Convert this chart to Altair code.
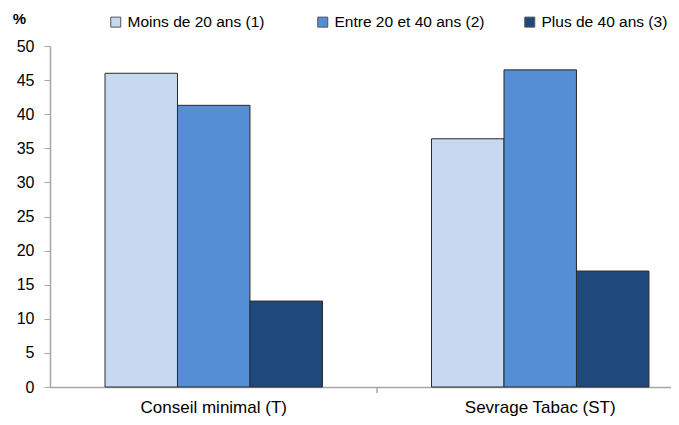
import altair as alt
import pandas as pd

categories = ["Conseil minimal (T)", "Sevrage Tabac (ST)"]
groups = ["Moins de 20 ans (1)", "Entre 20 et 40 ans (2)", "Plus de 40 ans (3)"]
conseil = [46.0, 41.3, 12.6]
sevrage = [36.4, 46.5, 17.0]
colors = ["#C6D9F1", "#558ED5", "#1F497D"]
y_ticks = [0, 5, 10, 15, 20, 25, 30, 35, 40, 45, 50]

rows = []
for cat, vals in zip(categories, [conseil, sevrage]):
    for g, v in zip(groups, vals):
        rows.append({"cat": cat, "grp": g, "val": v})
df = pd.DataFrame(rows)

FONT = "Liberation Sans"
W, H = 621, 341

xscale = alt.Scale(domain=categories, paddingInner=0.334, paddingOuter=0.118, align=0.714)

bars = alt.Chart(df).mark_bar(stroke="#2b2b2b", strokeWidth=1).encode(
    x=alt.X("cat:N", scale=xscale, sort=categories,
            axis=alt.Axis(title=None, labelAngle=0, tickSize=0, labelPadding=12,
                          labelFont=FONT, labelFontSize=17, labelColor="#000000",
                          domainColor="#A6A6A6", domainWidth=1.5)),
    xOffset=alt.XOffset("grp:N", sort=groups, scale=alt.Scale(paddingInner=0, paddingOuter=0)),
    y=alt.Y("val:Q", scale=alt.Scale(domain=[0, 50], nice=False),
            axis=alt.Axis(title="%", titleAngle=0, titleX=-31, titleY=-28,
                          titleAlign="center", titleBaseline="middle",
                          titleFont=FONT, titleFontSize=15, titleFontWeight="bold",
                          values=y_ticks, grid=False, tickSize=6, tickColor="#A6A6A6",
                          domainColor="#A6A6A6", domainWidth=1.5, labelPadding=10,
                          labelFont=FONT, labelFontSize=16, labelColor="#000000")),
    color=alt.Color("grp:N", sort=groups, scale=alt.Scale(domain=groups, range=colors),
                    legend=alt.Legend(title=None, orient="none", legendX=58, legendY=-32,
                                      direction="horizontal", columns=3, columnPadding=37,
                                      gridAlign="all", labelLimit=300,
                                      symbolType="square", symbolSize=100, symbolStrokeColor="#555555",
                                      symbolStrokeWidth=1, symbolOpacity=1, labelOffset=4,
                                      labelFont=FONT, labelFontSize=15.5, labelColor="#000000")),
)

tick_df = pd.DataFrame({"cat": [categories[1]]})
tick = alt.Chart(tick_df).mark_rule(color="#A6A6A6", strokeWidth=1.5, xOffset=-54.5).encode(
    x=alt.X("cat:N", scale=xscale, bandPosition=0),
    y=alt.value(H),
    y2=alt.value(H + 6),
)

chart = alt.layer(bars, tick).properties(
    width=W, height=H,
    padding={"left": 42, "top": 38, "right": 0, "bottom": 30},
    autosize=alt.AutoSizeParams(type="none"),
).configure_view(stroke=None)

chart.save("out.html", embed_options={"renderer": "svg", "actions": False})
